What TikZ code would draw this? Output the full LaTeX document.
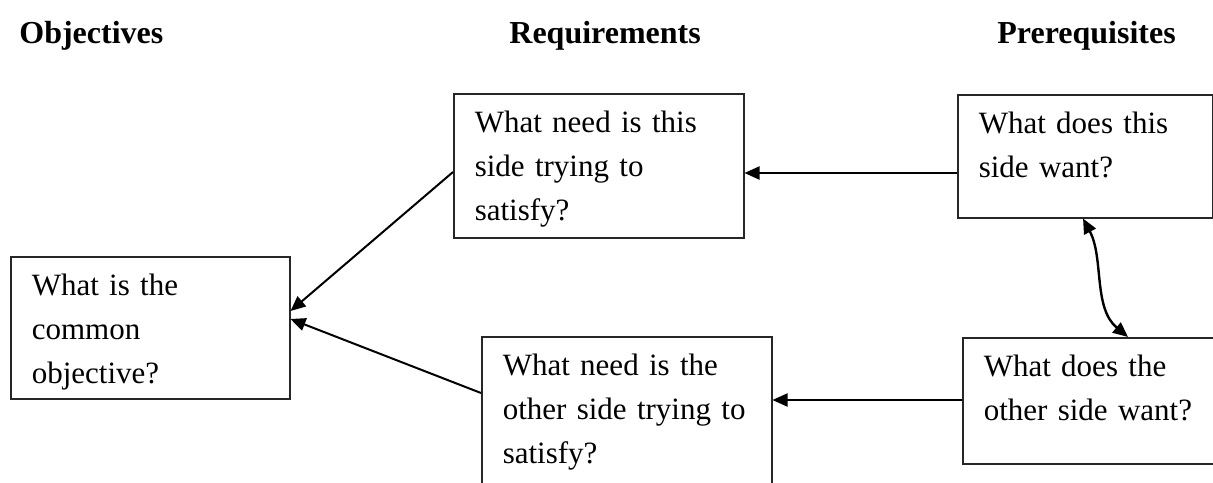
\documentclass[tikz,border=0pt]{standalone}
\usepackage{fontspec}
\setmainfont{Liberation Serif}
\usetikzlibrary{arrows.meta}
\newcommand{\boxline}[1]{\mbox{#1}}
\begin{document}
\begin{tikzpicture}[x=0.5pt,y=-0.5pt]
\tikzset{
  qbox/.style={draw=black!85, line width=0.75pt, anchor=north west,
    inner xsep=10.5pt, inner ysep=0pt, align=left, text height=19.5pt,
    font=\fontsize{15.5pt}{22pt}\selectfont},
  head/.style={anchor=base west, inner sep=0pt,
    font=\fontsize{16pt}{22pt}\selectfont\bfseries},
  link/.style={line width=1pt, -{Triangle[length=7.5pt,width=6.5pt]}},
  swap/.style={line width=1.2pt, {Triangle[length=7.5pt,width=6.5pt]}-{Triangle[length=7.5pt,width=6.5pt]}},
}
\useasboundingbox (0,0) rectangle (1213,482);
\clip (0,0) rectangle (1213,482);

% column headings
\node[head] (hobj) at (19,43) {Objectives};
\node[head] (hreq) at (509,43) {Requirements};
\node[head] (hpre) at (997,43) {Prerequisites};

% boxes
\node[qbox, text width=118.5pt, text depth=51.5pt] (obj) at (10,256)
  {\boxline{What is the}\\\boxline{common}\\\boxline{objective?}};
\node[qbox, text width=124pt, text depth=52.5pt] (req1) at (453,93)
  {\boxline{What need is this}\\\boxline{side trying to}\\\boxline{satisfy?}};
\node[qbox, text width=124pt, text depth=60.5pt] (req2) at (481,336)
  {\boxline{What need is the}\\\boxline{other side trying to}\\\boxline{satisfy?}};
\node[qbox, text width=106.5pt, text depth=42pt] (pre1) at (957,94)
  {\boxline{What does this}\\\boxline{side want?}};
\node[qbox, text width=106.5pt, text depth=43.5pt] (pre2) at (962,337)
  {\boxline{What does the}\\\boxline{other side want?}};

% connectors
\draw[link] (pre1.west |- 0,173) -- (req1.east |- 0,173);
\draw[link] (pre2.west |- 0,400) -- (req2.east |- 0,400);
\draw[link] (req1.west |- 0,172) -- (obj.east |- 0,311);
\draw[link] (req2.west |- 0,393) -- (obj.east |- 0,319);
\draw[swap] (pre1.south -| 1083,0) .. controls (1104,258) and (1093,308) .. (pre2.north -| 1128,0);
\end{tikzpicture}
\end{document}
